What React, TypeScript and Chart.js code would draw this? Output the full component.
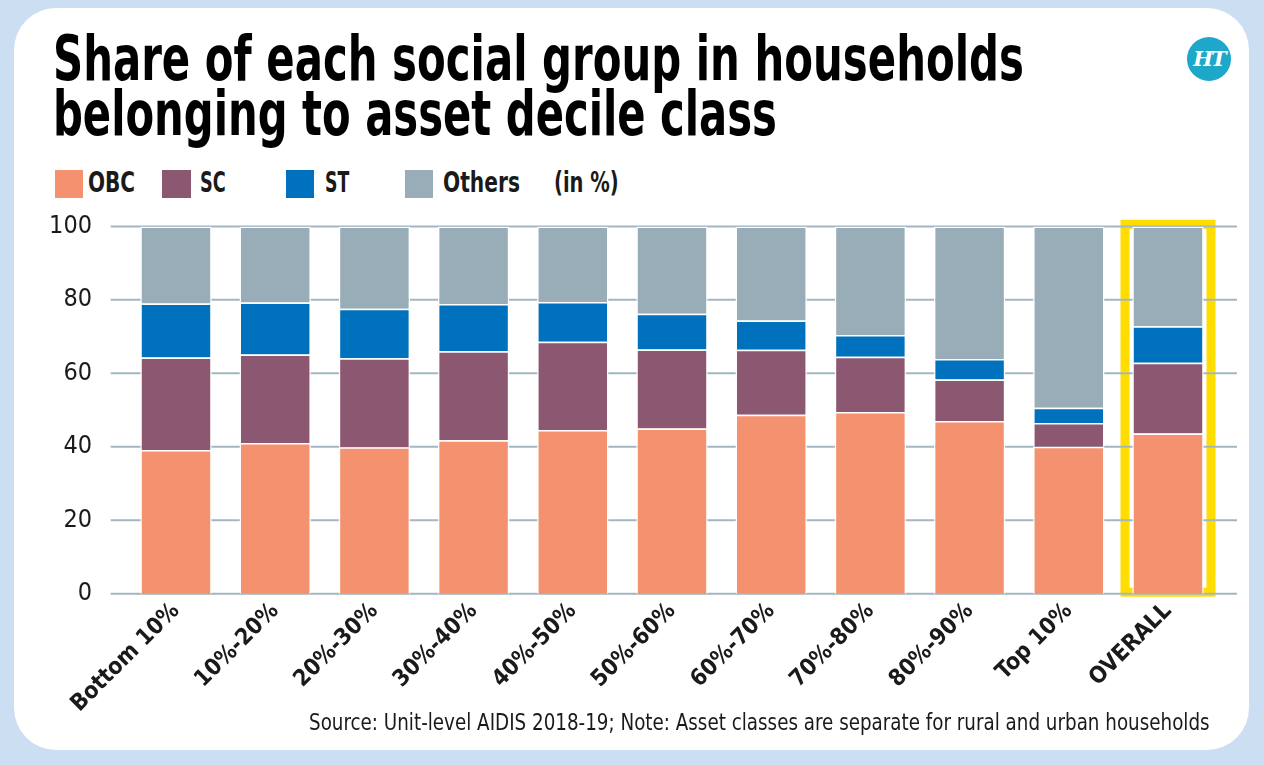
import React, { useEffect, useLayoutEffect, useRef, useState } from "react";
import { Chart, registerables } from "chart.js";

Chart.register(...registerables);

const categories = [
  "Bottom 10%",
  "10%-20%",
  "20%-30%",
  "30%-40%",
  "40%-50%",
  "50%-60%",
  "60%-70%",
  "70%-80%",
  "80%-90%",
  "Top 10%",
  "OVERALL",
];
const obc = [39.1, 41.0, 39.9, 41.8, 44.6, 45.0, 48.7, 49.5, 47.0, 40.0, 43.6];
const sc = [25.2, 24.1, 24.2, 24.2, 24.0, 21.5, 17.7, 15.0, 11.3, 6.5, 19.3];
const st = [14.7, 14.2, 13.5, 12.9, 10.8, 9.7, 8.0, 5.9, 5.6, 4.1, 9.9];
const others = [21.0, 20.7, 22.4, 21.1, 20.6, 23.8, 25.6, 29.6, 36.1, 49.4, 27.2];
const yTicks = [0, 20, 40, 60, 80, 100];
const seriesNames = ["OBC", "SC", "ST", "Others"];
const seriesColors = ["#F4916F", "#8C5770", "#0071BC", "#98ADB7"];
const highlightIndex = 10;

const titleLine1 = "Share of each social group in households";
const titleLine2 = "belonging to asset decile class";
const unitNote = "(in %)";
const sourceText =
  "Source: Unit-level AIDIS 2018-19; Note: Asset classes are separate for rural and urban households";

function hasFont(name: string): boolean {
  const c = document.createElement("canvas").getContext("2d");
  if (!c) return false;
  const t = "abcdefghijklmnopqrstuvwxyz0123456789ABCDEF";
  c.font = "40px monospace";
  const a = c.measureText(t).width;
  c.font = `40px "${name}", monospace`;
  const b = c.measureText(t).width;
  return Math.abs(a - b) > 0.5;
}

function pickFont(): string {
  const cands = ["Liberation Sans Narrow", "DejaVu Sans Condensed", "Roboto Condensed"];
  for (const f of cands) if (hasFont(f)) return `"${f}"`;
  return "Roboto";
}

function FitText(props: {
  text: string;
  width: number;
  left: number;
  top: number;
  style: React.CSSProperties;
}) {
  const ref = useRef<HTMLSpanElement>(null);
  const [s, setS] = useState(1);
  useLayoutEffect(() => {
    if (ref.current) {
      const w = ref.current.offsetWidth;
      if (w > 0) setS(props.width / w);
    }
  }, [props.text, props.width]);
  return (
    <span
      ref={ref}
      style={{
        ...props.style,
        position: "absolute",
        left: props.left,
        top: props.top,
        whiteSpace: "nowrap",
        transformOrigin: "0 0",
        transform: `scaleX(${s})`,
      }}
    >
      {props.text}
    </span>
  );
}

export default function App() {
  const canvasRef = useRef<HTMLCanvasElement>(null);
  const [font] = useState(() => pickFont());

  useEffect(() => {
    document.body.style.margin = "0";
    if (!canvasRef.current) return;
    const gridPlugin = {
      id: "bgGrid",
      beforeDatasetsDraw(chart: any) {
        const { ctx, chartArea, scales } = chart;
        const x = scales.x;
        const y = scales.y;
        ctx.save();
        const cx = x.getPixelForValue(highlightIndex);
        const top = y.getPixelForValue(100);
        const bottom = y.getPixelForValue(0);
        ctx.strokeStyle = "#FFDD00";
        ctx.lineWidth = 9;
        ctx.strokeRect(cx - 43, top - 2.1, 86, bottom - top + 0.6);
        ctx.strokeStyle = "#A3B6C3";
        ctx.lineWidth = 2;
        for (const v of yTicks) {
          const py = y.getPixelForValue(v);
          ctx.beginPath();
          ctx.moveTo(chartArea.left - 15.7, py);
          ctx.lineTo(chartArea.right + 19.4, py);
          ctx.stroke();
        }
        ctx.restore();
      },
    };
    const seriesData = [obc, sc, st, others];
    const chart = new Chart(canvasRef.current, {
      type: "bar",
      data: {
        labels: categories,
        datasets: seriesNames.map((n, i) => ({
          label: n,
          data: seriesData[i],
          backgroundColor: seriesColors[i],
          borderColor: "#FFFFFF",
          borderWidth: 1.5,
          barPercentage: 0.72,
          categoryPercentage: 1,
        })),
      },
      options: {
        animation: false,
        responsive: false,
        maintainAspectRatio: false,
        layout: { padding: { left: 0, right: 46.4, top: 4.6, bottom: 0 } },
        plugins: { legend: { display: false }, tooltip: { enabled: false }, title: { display: false } },
        scales: {
          x: {
            stacked: true,
            grid: { display: false, drawTicks: false },
            border: { display: false },
            ticks: {
              autoSkip: false,
              maxRotation: 45,
              minRotation: 45,
              padding: 4,
              color: "#1a1a1a",
              font: { family: font, size: 23, weight: "bold" },
            },
            afterFit: (a: any) => {
              a.height = 126.3;
            },
          },
          y: {
            stacked: true,
            min: 0,
            max: 100,
            grid: { display: false, drawTicks: false },
            border: { display: false },
            ticks: {
              stepSize: 20,
              padding: 34.4,
              color: "#1a1a1a",
              font: { family: font, size: 25 },
            },
            afterFit: (a: any) => {
              a.width = 126.4;
            },
          },
        },
      },
      plugins: [gridPlugin],
    });
    return () => chart.destroy();
  }, [font]);

  const titleStyle: React.CSSProperties = {
    fontFamily: font,
    fontWeight: "bold",
    fontSize: 62,
    lineHeight: "62px",
    color: "#000",
  };
  const legStyle: React.CSSProperties = {
    fontFamily: font,
    fontWeight: "bold",
    fontSize: 28,
    lineHeight: "28px",
    color: "#1a1a1a",
  };
  const legSquares = [55, 162.3, 286, 405];
  const legTextX = [88, 200, 325, 443.3];
  const legTextW = [47, 26, 24, 77];

  return (
    <div
      style={{
        position: "fixed",
        left: 0,
        top: 0,
        width: 1264,
        height: 765,
        background: "#CCDEF1",
        overflow: "hidden",
      }}
    >
      <div
        style={{
          position: "absolute",
          left: 14,
          top: 8,
          width: 1235,
          height: 742,
          background: "#FFFFFF",
          borderRadius: 42,
        }}
      />
      <FitText text={titleLine1} left={53.3} top={27.5} width={971} style={titleStyle} />
      <FitText text={titleLine2} left={53.3} top={82.5} width={724} style={titleStyle} />
      <div
        style={{
          position: "absolute",
          left: 1187,
          top: 37,
          width: 44,
          height: 44,
          borderRadius: 22,
          background: "#1DA8CA",
          color: "#fff",
          fontFamily: '"DejaVu Serif", serif',
          fontWeight: "bold",
          fontStyle: "italic",
          fontSize: 21,
          lineHeight: "44px",
          textAlign: "center",
          letterSpacing: -2,
        }}
      >
        HT
      </div>
      {seriesNames.map((n, i) => (
        <React.Fragment key={n}>
          <div
            style={{
              position: "absolute",
              left: legSquares[i],
              top: 170,
              width: 28.3,
              height: 28.3,
              background: seriesColors[i],
            }}
          />
          <FitText text={n} left={legTextX[i]} top={169.3} width={legTextW[i]} style={legStyle} />
        </React.Fragment>
      ))}
      <FitText text={unitNote} left={554} top={169.3} width={65} style={legStyle} />
      <canvas
        ref={canvasRef}
        width={1264}
        height={543}
        style={{ position: "absolute", left: 0, top: 177, width: 1264, height: 543 }}
      />
      <FitText
        text={sourceText}
        left={309.3}
        top={711}
        width={901}
        style={{ fontFamily: font, fontSize: 23, lineHeight: "23px", color: "#1a1a1a" }}
      />
    </div>
  );
}
